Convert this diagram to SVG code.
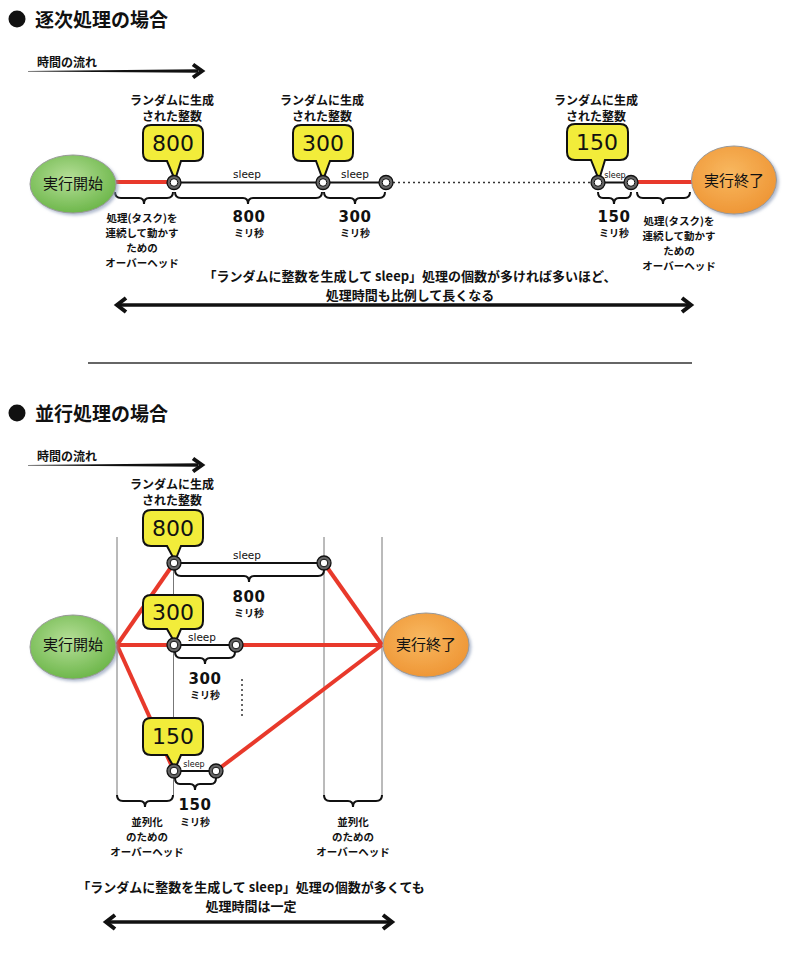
<svg xmlns="http://www.w3.org/2000/svg" width="800" height="967" viewBox="0 0 800 967">
<defs>
<radialGradient id="gG" cx="0.45" cy="0.4" r="0.65"><stop offset="0" stop-color="#b6df98"/><stop offset="1" stop-color="#68b445"/></radialGradient>
<radialGradient id="gO" cx="0.45" cy="0.4" r="0.65"><stop offset="0" stop-color="#f8b860"/><stop offset="1" stop-color="#ee9433"/></radialGradient>
<filter id="sh" x="-20%" y="-20%" width="150%" height="150%"><feDropShadow dx="2" dy="2" stdDeviation="1.5" flood-color="#8090b0" flood-opacity="0.6"/></filter>
<style>
.t{font-family:"Noto Sans CJK JP","Noto Sans",sans-serif;fill:#111}
.b{font-weight:bold}
.ttl{font-size:19px;font-weight:bold}
.s12{font-size:12px}
.s11{font-size:10.5px}
.big{font-size:13px;font-weight:bold}
.el{font-size:15px}
.num{font-family:"DejaVu Sans",Verdana,sans-serif;fill:#111;font-size:22px}
.bn{font-family:"DejaVu Sans",Verdana,sans-serif;fill:#111;font-size:15px;font-weight:bold;letter-spacing:0.5px}
.ms{font-family:"Noto Sans CJK JP",sans-serif;fill:#111;font-size:10px;font-weight:bold}
.sl{font-family:"DejaVu Sans",Verdana,sans-serif;fill:#111;font-size:10.5px}
.sls{font-family:"DejaVu Sans",Verdana,sans-serif;fill:#111;font-size:8px}
.red{stroke:#e8392b;stroke-width:4;fill:none}
.blk{stroke:#111;stroke-width:2;fill:none}
.br{stroke:#111;stroke-width:2;fill:none}
.vl{stroke:#777;stroke-width:1;fill:none}
.co{fill:#f2ec3a;stroke:#111;stroke-width:2}
.no{fill:#666;stroke:#111;stroke-width:1.3}
.ni{fill:#fff;stroke:#111;stroke-width:1}
.ah{stroke:#111;stroke-width:4;fill:none;stroke-linecap:butt}
</style>
</defs>
<rect width="800" height="967" fill="#fff"/>

<!-- ===== Section 1 ===== -->
<g id="title1">
<circle cx="17" cy="19" r="8.5" fill="#111"/>
<text class="t ttl" x="35" y="27">逐次処理の場合</text>
</g>
<g id="timeflow1">
<text class="t s12 b" x="37" y="67">時間の流れ</text>
<polygon points="28,71 198,69.3 198,72.7 28,71.5" fill="#111"/>
<polyline points="193,64.5 202,71 193,77.5" class="ah"/>
</g>

<g id="connectors1">
<line x1="116" y1="182" x2="168" y2="182" class="red"/>
<line x1="637" y1="182" x2="693" y2="182" class="red"/>
<line x1="174" y1="182.5" x2="386" y2="182.5" class="blk"/>
<line x1="598" y1="182.5" x2="631" y2="182.5" class="blk"/>
<line x1="393" y1="182.5" x2="592" y2="182.5" stroke="#333" stroke-width="1.5" stroke-dasharray="2,3"/>
<path class="br" d="M115 192 Q115 198 121 198 H139 Q144 198 144 204 Q144 198 149 198 H167 Q173 198 173 192"/>
<path class="br" d="M175 192 Q175 198 181 198 H243 Q248 198 248 204 Q248 198 253 198 H316 Q322 198 322 192"/>
<path class="br" d="M324 192 Q324 198 330 198 H350 Q355 198 355 204 Q355 198 360 198 H379 Q385 198 385 192"/>
<path class="br" d="M598 192 Q598 198 603 198 H609 Q614 198 614 204 Q614 198 619 198 H626 Q631 198 631 192"/>
<path class="br" d="M637 192 Q637 198 643 198 H658 Q663 198 663 204 Q663 198 668 198 H684 Q690 198 690 192"/>
</g>

<g id="start1">
<ellipse cx="73" cy="184" rx="43" ry="29" fill="url(#gG)" stroke="#999" stroke-width="1" filter="url(#sh)"/>
<text class="t el" x="73" y="189" text-anchor="middle">実行開始</text>
</g>
<g id="end1">
<ellipse cx="734" cy="180" rx="42.5" ry="34" fill="url(#gO)" stroke="#999" stroke-width="1" filter="url(#sh)"/>
<text class="t el" x="734" y="186" text-anchor="middle">実行終了</text>
</g>

<g id="callout800a">
<text class="t s12 b" x="172" y="105" text-anchor="middle">ランダムに生成</text>
<text class="t s12 b" x="172" y="121" text-anchor="middle">された整数</text>
<path class="co" d="M151 125 H195 Q203 125 203 133 V153 Q203 161 195 161 H181 L175 180 L167 161 H151 Q143 161 143 153 V133 Q143 125 151 125 Z"/>
<text class="num" x="173" y="151" text-anchor="middle">800</text>
</g>
<g id="callout300a">
<text class="t s12 b" x="322" y="105" text-anchor="middle">ランダムに生成</text>
<text class="t s12 b" x="322" y="121" text-anchor="middle">された整数</text>
<path class="co" d="M301 125 H345 Q353 125 353 133 V153 Q353 161 345 161 H330 L323 180 L316 161 H301 Q293 161 293 153 V133 Q293 125 301 125 Z"/>
<text class="num" x="323" y="151" text-anchor="middle">300</text>
</g>
<g id="callout150a">
<text class="t s12 b" x="596" y="105" text-anchor="middle">ランダムに生成</text>
<text class="t s12 b" x="596" y="121" text-anchor="middle">された整数</text>
<path class="co" d="M575 124 H620 Q628 124 628 132 V152 Q628 160 620 160 H605 L599 180 L591 160 H575 Q567 160 567 152 V132 Q567 124 575 124 Z"/>
<text class="num" x="597" y="150" text-anchor="middle">150</text>
</g>

<g id="nodes1">
<circle class="no" cx="174" cy="182.5" r="7"/><circle class="ni" cx="174" cy="182.5" r="3.8"/>
<circle class="no" cx="323" cy="182.5" r="7"/><circle class="ni" cx="323" cy="182.5" r="3.8"/>
<circle class="no" cx="386" cy="182.5" r="7"/><circle class="ni" cx="386" cy="182.5" r="3.8"/>
<circle class="no" cx="598" cy="182.5" r="7"/><circle class="ni" cx="598" cy="182.5" r="3.8"/>
<circle class="no" cx="631" cy="182.5" r="7"/><circle class="ni" cx="631" cy="182.5" r="3.8"/>
</g>

<g id="labels1">
<text class="sl" x="247" y="178" text-anchor="middle">sleep</text>
<text class="sl" x="355" y="178" text-anchor="middle">sleep</text>
<text class="sls" x="615" y="178" text-anchor="middle">sleep</text>
<text class="bn" x="249" y="222" text-anchor="middle">800</text>
<text class="ms" x="249" y="237" text-anchor="middle">ミリ秒</text>
<text class="bn" x="355" y="222" text-anchor="middle">300</text>
<text class="ms" x="355" y="237" text-anchor="middle">ミリ秒</text>
<text class="bn" x="614" y="222" text-anchor="middle">150</text>
<text class="ms" x="614" y="237" text-anchor="middle">ミリ秒</text>
</g>
<g id="overhead1a">
<text class="t s11 b" x="142" y="222" text-anchor="middle">処理(タスク)を</text>
<text class="t s11 b" x="142" y="237" text-anchor="middle">連続して動かす</text>
<text class="t s11 b" x="142" y="252" text-anchor="middle">ための</text>
<text class="t s11 b" x="142" y="267" text-anchor="middle">オーバーヘッド</text>
</g>
<g id="overhead1b">
<text class="t s11 b" x="679" y="225" text-anchor="middle">処理(タスク)を</text>
<text class="t s11 b" x="679" y="240" text-anchor="middle">連続して動かす</text>
<text class="t s11 b" x="679" y="255" text-anchor="middle">ための</text>
<text class="t s11 b" x="679" y="270" text-anchor="middle">オーバーヘッド</text>
</g>
<g id="summary1">
<text class="t big" x="410" y="281" text-anchor="middle">「ランダムに整数を生成して sleep」処理の個数が多ければ多いほど、</text>
<text class="t big" x="410" y="300" text-anchor="middle">処理時間も比例して長くなる</text>
<line x1="118" y1="305" x2="689" y2="305" stroke="#111" stroke-width="3.5"/>
<polyline points="126,298 117,305 126,312" class="ah"/>
<polyline points="682,298 691,305 682,312" class="ah"/>
</g>

<line id="separator" x1="88" y1="363" x2="692" y2="363" stroke="#333" stroke-width="1.3"/>

<!-- ===== Section 2 ===== -->
<g id="title2">
<circle cx="17" cy="413" r="8.5" fill="#111"/>
<text class="t ttl" x="35" y="421">並行処理の場合</text>
</g>
<g id="timeflow2">
<text class="t s12 b" x="37" y="461">時間の流れ</text>
<polygon points="28,465 198,463.3 198,466.7 28,465.5" fill="#111"/>
<polyline points="193,458.5 202,465 193,471.5" class="ah"/>
</g>

<g id="connectors2">
<line x1="117" y1="537" x2="117" y2="797" class="vl"/>
<line x1="173.5" y1="570" x2="173.5" y2="797" class="vl"/>
<line x1="324" y1="537" x2="324" y2="797" class="vl"/>
<line x1="382" y1="537" x2="382" y2="797" class="vl"/>
<line x1="117" y1="645" x2="174" y2="563" class="red"/>
<line x1="117" y1="645" x2="174" y2="771" class="red"/>
<line x1="117" y1="645" x2="168" y2="645" class="red"/>
<line x1="324" y1="563" x2="382" y2="645" class="red"/>
<line x1="236" y1="645" x2="382" y2="645" class="red"/>
<line x1="216" y1="771" x2="382" y2="645" class="red"/>
<line x1="174" y1="563" x2="324" y2="563" class="blk"/>
<line x1="174" y1="645" x2="236" y2="645" class="blk"/>
<line x1="174" y1="771" x2="216" y2="771" class="blk"/>
<line x1="242" y1="679" x2="242" y2="717" stroke="#333" stroke-width="1.5" stroke-dasharray="2,3"/>
<path class="br" d="M175 570 Q175 576 181 576 H244 Q249 576 249 582 Q249 576 254 576 H318 Q324 576 324 570"/>
<path class="br" d="M175 652 Q175 658 181 658 H200 Q205 658 205 664 Q205 658 210 658 H229 Q235 658 235 652"/>
<path class="br" d="M175 778 Q175 784 180 784 H190 Q195 784 195 790 Q195 784 200 784 H211 Q216 784 216 778"/>
<path class="br" d="M117 795 Q117 801 123 801 H140 Q145 801 145 807 Q145 801 150 801 H167 Q173 801 173 795"/>
<path class="br" d="M324 795 Q324 801 330 801 H348 Q353 801 353 807 Q353 801 358 801 H376 Q382 801 382 795"/>
</g>

<g id="start2">
<ellipse cx="73" cy="647" rx="43" ry="32" fill="url(#gG)" stroke="#999" stroke-width="1" filter="url(#sh)"/>
<text class="t el" x="73" y="650" text-anchor="middle">実行開始</text>
</g>
<g id="end2">
<ellipse cx="426" cy="645" rx="43" ry="32" fill="url(#gO)" stroke="#999" stroke-width="1" filter="url(#sh)"/>
<text class="t el" x="426" y="650" text-anchor="middle">実行終了</text>
</g>

<g id="callout800b">
<text class="t s12 b" x="172" y="489" text-anchor="middle">ランダムに生成</text>
<text class="t s12 b" x="172" y="505" text-anchor="middle">された整数</text>
<path class="co" d="M151 510 H195 Q203 510 203 518 V538 Q203 546 195 546 H181 L175 561 L167 546 H151 Q143 546 143 538 V518 Q143 510 151 510 Z"/>
<text class="num" x="173" y="536" text-anchor="middle">800</text>
</g>
<g id="callout300b">
<path class="co" d="M151 595 H195 Q203 595 203 603 V621 Q203 629 195 629 H181 L175 643 L167 629 H151 Q143 629 143 621 V603 Q143 595 151 595 Z"/>
<text class="num" x="173" y="620" text-anchor="middle">300</text>
</g>
<g id="callout150b">
<path class="co" d="M151 718 H195 Q203 718 203 726 V747 Q203 755 195 755 H181 L175 769 L167 755 H151 Q143 755 143 747 V726 Q143 718 151 718 Z"/>
<text class="num" x="173" y="744" text-anchor="middle">150</text>
</g>

<g id="nodes2">
<circle class="no" cx="174" cy="563" r="7"/><circle class="ni" cx="174" cy="563" r="3.8"/>
<circle class="no" cx="324" cy="563" r="7"/><circle class="ni" cx="324" cy="563" r="3.8"/>
<circle class="no" cx="174" cy="645" r="7"/><circle class="ni" cx="174" cy="645" r="3.8"/>
<circle class="no" cx="236" cy="645" r="7"/><circle class="ni" cx="236" cy="645" r="3.8"/>
<circle class="no" cx="174" cy="771" r="7"/><circle class="ni" cx="174" cy="771" r="3.8"/>
<circle class="no" cx="216" cy="771" r="7"/><circle class="ni" cx="216" cy="771" r="3.8"/>
</g>

<g id="labels2">
<text class="sl" x="247" y="559" text-anchor="middle">sleep</text>
<text class="sl" x="202" y="641" text-anchor="middle">sleep</text>
<text class="sls" x="194" y="767" text-anchor="middle">sleep</text>
<text class="bn" x="249" y="602" text-anchor="middle">800</text>
<text class="ms" x="249" y="617" text-anchor="middle">ミリ秒</text>
<text class="bn" x="205" y="684" text-anchor="middle">300</text>
<text class="ms" x="205" y="699" text-anchor="middle">ミリ秒</text>
<text class="bn" x="195" y="810" text-anchor="middle">150</text>
<text class="ms" x="195" y="826" text-anchor="middle">ミリ秒</text>
</g>
<g id="overhead2a">
<text class="t s11 b" x="147" y="826" text-anchor="middle">並列化</text>
<text class="t s11 b" x="147" y="841" text-anchor="middle">のための</text>
<text class="t s11 b" x="147" y="856" text-anchor="middle">オーバーヘッド</text>
</g>
<g id="overhead2b">
<text class="t s11 b" x="353" y="826" text-anchor="middle">並列化</text>
<text class="t s11 b" x="353" y="841" text-anchor="middle">のための</text>
<text class="t s11 b" x="353" y="856" text-anchor="middle">オーバーヘッド</text>
</g>
<g id="summary2">
<text class="t big" x="251" y="892" text-anchor="middle">「ランダムに整数を生成して sleep」処理の個数が多くても</text>
<text class="t big" x="251" y="911" text-anchor="middle">処理時間は一定</text>
<line x1="108" y1="922" x2="390" y2="922" stroke="#111" stroke-width="3.5"/>
<polyline points="115,915 106,922 115,929" class="ah"/>
<polyline points="383,915 392,922 383,929" class="ah"/>
</g>
</svg>
